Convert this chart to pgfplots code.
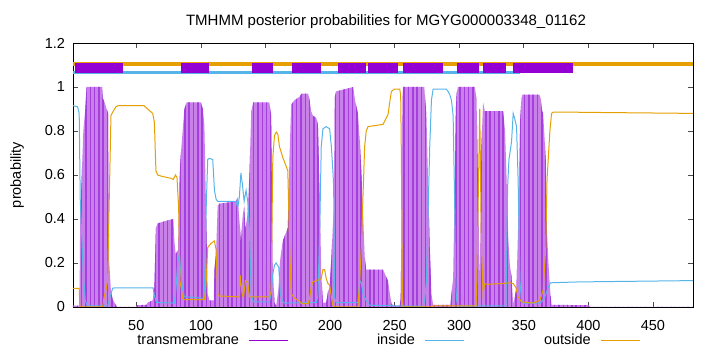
\documentclass[border=0pt]{standalone}
\usepackage{pgfplots}
\pgfplotsset{compat=1.18}
\usepackage{fontspec}
\setmainfont{Liberation Sans}
\usetikzlibrary{patterns.meta}
\definecolor{tmlight}{HTML}{CA80E9}
\definecolor{tmdark}{HTML}{A540DE}
\definecolor{tmbox}{HTML}{9400D3}
\definecolor{insidec}{HTML}{56B4E9}
\definecolor{outsidec}{HTML}{E69F00}
\begin{document}
\fontsize{14.5}{17}\selectfont
\begin{tikzpicture}
\useasboundingbox (-73pt,-45pt) rectangle (647pt,307pt);
\begin{axis}[
  at={(0pt,0pt)}, anchor=south west,
  scale only axis, width=620pt, height=264pt,
  xmin=1, xmax=481, ymin=0, ymax=1.2,
  xtick={50,100,150,200,250,300,350,400,450},
  ytick={0,0.2,0.4,0.6,0.8,1,1.2},
  xtick pos=both, ytick pos=both,
  xticklabel pos=bottom, yticklabel pos=left,
  tick align=inside, major tick length=5pt,
  major tick style={black!70, line width=0.7pt},
  axis line style={line width=0.9pt},
  /pgf/number format/assume math mode=true,
  xticklabel style={yshift=-8pt},
  yticklabel style={xshift=-3pt},
  title={TMHMM posterior probabilities for MGYG000003348\_01162},
  title style={at={(axis description cs:0.5,1)}, anchor=center, yshift=15pt, xshift=3pt,
    font=\fontsize{15}{18}\selectfont},
  ylabel={probability},
  ylabel style={at={(axis description cs:-0.0903,0.5)}, anchor=center},
  legend columns=3,
  legend plot pos=right,
  legend style={at={(axis description cs:0.0645,-0.125)}, anchor=west, draw=none, fill=none,
    inner sep=0pt, outer sep=0pt, column sep=0pt, row sep=0pt, nodes={inner sep=0pt}},
  legend image code/.code={\draw[#1] (0pt,0pt) -- (39pt,0pt);},
]
% transmembrane posterior (impulse-like area)
\addplot[forget plot, draw=none, fill=tmlight,
  postaction={pattern={Lines[angle=90,distance=4.3pt,line width=1.5pt]}, pattern color=tmdark}]
coordinates {
(1,0.006) (6,0.006) (6.6,0.43) (7.5,0.55) (9,0.8) (10.5,0.9) (11.5,1.0) (23.5,1.0) (24,0.95)
(25.5,0.93) (27,0.9) (28.3,0.88) (29,0.21) (30.4,0.07) (31.7,0.035) (34,0.01) (35,0) (50,0)
(50.5,0.008) (58,0.01) (58.8,0.02) (62.7,0.03) (64,0.09) (65.2,0.36) (66.5,0.38) (72,0.39)
(78.7,0.40) (79.5,0.3) (80.5,0.24) (82.3,0.26) (83.3,0.58) (84.3,0.68) (85.9,0.8) (87.2,0.9)
(89,0.93) (100,0.93) (101.5,0.9) (102.7,0.83) (104,0.45) (105.3,0.06) (106.6,0.03) (110,0.03)
(110.5,0.17) (111.8,0.25) (113,0.46) (114.3,0.47) (127.3,0.48) (128.5,0.5) (130.4,0.35)
(131,0.29) (132.3,0.41) (133.5,0.46) (134.5,0.35) (136,0.42) (137.6,0.6) (139,0.89)
(140.5,0.93) (153,0.93) (154.4,0.87) (155.7,0.17) (157,0.02) (158.3,0.005) (160,0.08)
(161.5,0.22) (163.4,0.3) (166,0.34) (167.3,0.36) (168.6,0.68) (169.9,0.92) (172.5,0.94)
(176.3,0.955) (178,0.97) (183,0.97) (184.2,0.94) (185.4,0.89) (186.7,0.87) (189.3,0.86)
(190.6,0.83) (192,0.53) (193.2,0.15) (194.5,0.02) (197,0.02) (198.4,0.07) (199.7,0.09)
(201,0.22) (202.2,0.37) (203,0.45) (203.5,0.95) (204.7,0.98) (218,1.0) (219.3,0.94)
(221.6,0.88) (223,0.76) (224.2,0.62) (225.5,0.44) (226.8,0.23) (228,0.17) (241,0.17)
(243.6,0.135) (244.9,0.12) (246.2,0.065) (247.5,0.015) (250,0.005) (254,0.005) (254.7,0.04)
(255.2,0.3) (256,0.95) (256.5,1.0) (273,1.0) (273.3,0.97) (274.6,0.88) (275.9,0.57)
(277.2,0.27) (278.5,0.06) (279.8,0.01) (293,0.01) (294,0.06) (295.3,0.13) (296.6,0.57)
(297.4,0.9) (298,0.97) (299,1.0) (312,1.0) (313.4,0.95) (314.6,0.55) (315.9,0.1) (317.2,0.73)
(318.5,0.93) (319.8,0.89) (334,0.89) (335.5,0.8) (336.6,0.6) (338,0.31) (339.2,0.19)
(340.5,0.14) (341.8,0.01) (343.1,0.05) (344.4,0.09) (345.6,0.37) (347,0.83) (348.2,0.95)
(349,0.965) (362,0.965) (363,0.95) (364,0.9) (365,0.88) (367,0.67) (368,0.34) (369,0.21)
(370.2,0.09) (371.5,0.01) (400,0.008) (401,0) (481,0)
} \closedcycle;
% inside
\addplot[forget plot, insidec, line width=1pt] coordinates {
(1,0.915) (4.5,0.91) (5.8,0.88) (6.6,0.49) (7.5,0.36) (9,0.15) (10.5,0.03) (12,0.005)
(27.8,0.005) (29,0.03) (30.4,0.06) (31.7,0.085) (33,0.087) (63,0.087) (64,0.05) (65.8,0.02)
(79.5,0.018) (80.7,0.08) (82,0.2) (83.3,0.24) (84.5,0.15) (85.9,0.08) (87.2,0.046)
(102.7,0.04) (104,0.43) (105.3,0.67) (106.6,0.676) (109.2,0.67) (110.5,0.53) (111.8,0.49)
(113,0.48) (127.3,0.48) (128.5,0.45) (129.8,0.5) (131,0.61) (132.3,0.55) (133.5,0.48)
(135,0.53) (136.3,0.48) (137.6,0.35) (139,0.06) (140.5,0.023) (153,0.023) (154.4,0.06)
(155.7,0.15) (157,0.19) (158.3,0.2) (160.3,0.18) (161.5,0.06) (163.4,0.025) (164.7,0.018)
(189.3,0.02) (190.6,0.05) (192,0.35) (193.2,0.73) (194.5,0.81) (197,0.82) (199.7,0.81)
(201,0.73) (202.2,0.62) (202.8,0.55) (203.5,0.046) (204.7,0.02) (221.6,0.02) (223,0.12)
(224.2,0.11) (225.5,0.06) (228,0.03) (230.7,0.008) (254,0.005) (272,0.003) (273.3,0.03)
(274.6,0.12) (275.9,0.43) (277.2,0.73) (278.5,0.94) (279.8,0.99) (290,0.99) (291.4,0.98)
(292.7,0.965) (294,0.94) (295.3,0.87) (296.6,0.43) (297.4,0.1) (298,0.03) (299,0.005)
(336.2,0.005) (337.5,0.55) (338.5,0.67) (340.5,0.75) (341.8,0.88) (342.8,0.86) (344.4,0.82)
(345.6,0.58) (347,0.12) (348.2,0.03) (349.5,0.018) (362.4,0.018) (363.7,0.023) (366.3,0.045)
(369,0.09) (370.7,0.11) (393,0.114) (481,0.12)
};
% outside
\addplot[forget plot, outsidec, line width=1pt] coordinates {
(1,0.085) (5.8,0.085) (6.3,0.0) (24,0.0) (25.2,0.05) (26.5,0.076) (27.8,0.12) (29,0.47)
(30.4,0.87) (31.7,0.885) (34.2,0.91) (36,0.915) (56,0.915) (58.8,0.9) (62.7,0.88) (64,0.84)
(65.2,0.62) (66.5,0.6) (70.4,0.593) (76.9,0.585) (78.7,0.58) (80.3,0.6) (81.5,0.59)
(82.8,0.45) (83.8,0.12) (85.9,0.04) (87,0.033) (102.7,0.033) (104,0.1) (105.3,0.27)
(107.9,0.29) (110.5,0.3) (111.8,0.26) (113,0.06) (114.3,0.05) (129.8,0.046) (130.4,0.145)
(131.2,0.1) (131.9,0.06) (133,0.04) (134.5,0.12) (136.3,0.11) (137.6,0.046) (153,0.046)
(154.4,0.07) (155.7,0.68) (157,0.78) (158.3,0.795) (159.6,0.785) (160.8,0.73) (163.4,0.68)
(166,0.64) (167.3,0.62) (168.6,0.3) (169.9,0.06) (172.5,0.04) (176.3,0.027) (178,0.015)
(183,0.015) (184.2,0.04) (185.4,0.09) (186.7,0.114) (189.3,0.12) (192,0.125) (193.2,0.13)
(194.5,0.17) (195.8,0.17) (197,0.13) (198.4,0.106) (199.7,0.1) (201,0.046) (202.2,0.008)
(203.5,0.0) (221.6,0.0) (223,0.12) (224.2,0.27) (225.5,0.5) (226.8,0.73) (228,0.8)
(229.4,0.82) (241,0.83) (243.6,0.86) (244.9,0.875) (246.2,0.93) (247.5,0.98) (250,0.99)
(254,0.99) (254.7,0.96) (255.2,0.7) (256,0.05) (256.5,0.0) (278,0.0) (280,0.005) (313,0.005)
(313.4,0.05) (314.6,0.45) (315.9,0.9) (317.2,0.27) (318.5,0.06) (319.8,0.106) (322.4,0.103)
(331.4,0.106) (339.2,0.11) (341.8,0.106) (343.8,0.09) (345.6,0.046) (348.2,0.023)
(357.3,0.018) (362.4,0.03) (365,0.076) (367,0.27) (368,0.58) (370.2,0.8) (371.5,0.88)
(372.8,0.886) (388.3,0.886) (393.4,0.885) (481,0.88)
};
% top topology annotation
\addplot[forget plot, outsidec, line width=3.5pt] coordinates {(1,1.105) (481,1.105)};
\addplot[forget plot, insidec, line width=3pt] coordinates {(1,1.066) (347,1.066)};
\addplot[forget plot, tmbox, line width=10pt, unbounded coords=jump] coordinates {
(2.5,1.0865) (39.7,1.0865) (40,nan)
(84.6,1.0865) (106.3,1.0865) (107,nan)
(139.6,1.0865) (155.8,1.0865) (156,nan)
(170.6,1.0865) (193.0,1.0865) (194,nan)
(206.2,1.0865) (227.8,1.0865) (228.5,nan)
(229.4,1.0865) (252.6,1.0865) (253,nan)
(256.5,1.0865) (287.4,1.0865) (288,nan)
(298.3,1.0865) (315.3,1.0865) (316,nan)
(318.4,1.0865) (336.2,1.0865) (337,nan)
(341.7,1.0865) (388.1,1.0865)
};
\addlegendimage{tmbox, line width=0.9pt}
\addlegendentry{\makebox[136pt][r]{transmembrane\hspace*{10pt}}}
\addlegendimage{insidec, line width=0.9pt}
\addlegendentry{\makebox[136pt][r]{inside\hspace*{10pt}}}
\addlegendimage{outsidec, line width=0.9pt}
\addlegendentry{\makebox[136pt][r]{outside\hspace*{10pt}}}
\end{axis}
\end{tikzpicture}
\end{document}
